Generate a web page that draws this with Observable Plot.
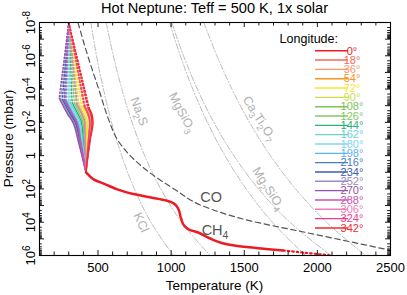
<!DOCTYPE html>
<html><head><meta charset="utf-8">
<script src="https://cdn.jsdelivr.net/npm/d3@7"></script>
<script src="https://cdn.jsdelivr.net/npm/@observablehq/plot@0.6"></script>
<style>
html,body{margin:0;padding:0;background:#fff;}
#chart svg{display:block;}
</style>
</head><body><div id="chart"></div>
<script>
// ---------- DATA ----------
const title = "Hot Neptune: Teff = 500 K, 1x solar";
const xLabel = "Temperature (K)";
const yLabel = "Pressure (mbar)";
const legendTitle = "Longitude:";
const xTickValues = [500, 1000, 1500, 2000, 2500];
const yTickLabelValues = [1e-8, 1e-6, 1e-4, 1e-2, 1, 1e2, 1e4, 1e6];

const longitudes = [0,18,36,54,72,90,108,126,144,162,180,198,216,234,252,270,288,306,324,342];
const lonColors = ["#ed1c24","#f26a5c","#f5986e","#f7941d","#f9e62c","#cddc4a","#7cc35a","#86c667","#25b474","#6ed1cf","#82d5ef","#5cb4e8","#4b7bc2","#3d5ca9","#9a8cc5","#9453a9","#cc52ad","#f07db8","#ec3d8c","#ef2d33"];

// upper (dotted) segment: common apex, then per-longitude start of solid part
const apexT = 300;          // K at 1e-8 mbar
const apexP = 1e-8;
const startT    = [440,430,415,403,387,370,352,338,323,309,297,284,268,256,245,235,276,358,409,432];
const startLogP = [-2.85,-2.88,-2.92,-2.96,-3.01,-3.05,-3.11,-3.15,-3.19,-3.23,-3.27,-3.31,-3.35,-3.39,-3.42,-3.45,-3.33,-3.09,-2.94,-2.87];
// solid segment: temperatures at these log10(p/mbar) levels
const solidLevels = [-2.5,-2,-1,0,1];
const solidT = [
 [458,466,448,432,418],
 [450,459,444,430,418],
 [438,449,438,427,418],
 [428,441,432,424,418],
 [415,430,425,421,418],
 [402,419,418,418,418],
 [387,407,411,414,418],
 [375,397,405,411,418],
 [363,387,398,408,418],
 [352,378,392,405,418],
 [342,369,387,403,418],
 [332,361,382,400,418],
 [319,350,375,397,418],
 [309,342,370,394,418],
 [300,335,365,392,418],
 [292,328,361,390,418],
 [325,356,378,398,418],
 [392,411,413,415,418],
 [433,445,435,426,418],
 [451,460,445,430,418]
];
// deep common profile
const deepLogP = [1.0,1.13,1.44,1.74,2.04,2.28,2.52,2.70,2.88,3.18,3.78,4.2,4.44,4.62,4.95,5.4,5.7];
const deepT    = [418,432,473,555,637,726,863,966,1020,1048,1068,1089,1123,1185,1260,1432,1767];
const deepDotLogP = [5.7, 6.0];
const deepDotT    = [1767, 2096];

// condensation curves (dash-dot, light grey)
const condLogP = [-8,-6,-4,-2,0,2,4,6];
const kclT     = [451,490,537,593,662,749,862,1016];
const na2sT    = [556,605,663,733,819,929,1072,1267];
const mgsio3T  = [989,1063,1148,1248,1368,1513,1692,1919];
const mg2sio4T = [1004,1085,1179,1292,1429,1597,1812,2092];
const catiT    = [1224,1313,1416,1536,1679,1851,2063,2329];
// CO = CH4 boundary (dark dashed)
const coLogP = [-8,-6,-4,-2,-1,0,1,2,3,3.93,4.56,5.19,5.70];
const coT    = [363,430,505,580,630,720,850,1020,1210,1548,1890,2233,2507];

// curve labels
const condLabels = ["Na2S","MgSiO3","Ca3Ti2O7","Mg2SiO4","KCl"];
const condLabelT = [781,1075,1603,1665,795];
const condLabelLogP = [-2.65,-2.59,-2.23,1.98,4.02];
const condLabelAngle = [70,62,57,57,65];
const gasLabels = ["CO","CH4"];
const gasLabelT = [1274,1300];
const gasLabelLogP = [2.52,4.5];

// ---------- BUILD ----------
const W = 407, H = 295, mL = 39, mR = 17, mT = 22, mB = 40;
const fW = W - mL - mR, fH = H - mT - mB;

const dotted = longitudes.flatMap((lon,i) => [
  {lon, T: apexT, p: apexP},
  {lon, T: startT[i], p: 10**startLogP[i]}
]);
const solid = longitudes.flatMap((lon,i) => [
  {lon, T: startT[i], p: 10**startLogP[i]},
  ...solidLevels.map((lp,j) => ({lon, T: solidT[i][j], p: 10**lp}))
]);
const deep = deepLogP.map((lp,i) => ({T: deepT[i], p: 10**lp}));
const deepDot = deepDotLogP.map((lp,i) => ({T: deepDotT[i], p: 10**lp}));
const conds = [["KCl",kclT],["Na2S",na2sT],["MgSiO3",mgsio3T],["Mg2SiO4",mg2sio4T],["CaTi",catiT]]
  .flatMap(([name, arr]) => arr.map((T,i) => ({name, T, p: 10**condLogP[i]})));
const coData = coLogP.map((lp,i) => ({T: coT[i], p: 10**lp}));
const condLab = condLabels.map((s,i) => ({s, T: condLabelT[i], p: 10**condLabelLogP[i], a: condLabelAngle[i]}));
const gasLab = gasLabels.map((s,i) => ({s, T: gasLabelT[i], p: 10**gasLabelLogP[i]}));

// tick positions (axis decoration)
const yMajor = d3.range(-8, 7).map(e => 10**e);
const yMinor = d3.range(-8, 6).flatMap(e => d3.range(2, 10).map(k => k * 10**e));
const xMinorTicks = d3.range(200, 2501, 100).filter(v => v % 500 !== 0);

const tickY = (vals, len, side) => Plot.tickY(vals, {y: d => d, stroke: "black", strokeWidth: 0.9,
  insetRight: side === "left" ? fW - len : 0, insetLeft: side === "right" ? fW - len : 0});
const tickX = (vals, len, side) => Plot.tickX(vals, {x: d => d, stroke: "black", strokeWidth: 0.9,
  insetTop: side === "bottom" ? fH - len : 0, insetBottom: side === "top" ? fH - len : 0});

const plot = Plot.plot({
  width: W, height: H,
  marginLeft: mL, marginRight: mR, marginTop: mT, marginBottom: mB,
  style: {fontFamily: "'Liberation Sans', Arial, Helvetica, sans-serif", fontSize: "13px", color: "black", background: "white", overflow: "visible"},
  x: {domain: [100, 2500]},
  y: {type: "log", domain: [1e-8, 1e6], reverse: true},
  color: {type: "ordinal", domain: longitudes, range: lonColors},
  marks: [
    Plot.line(conds, {x: "T", y: "p", z: "name", stroke: "#b4b4b4", strokeWidth: 0.9, strokeDasharray: "6,2,1.2,2", clip: true, curve: "monotone-y"}),
    Plot.line(coData, {x: "T", y: "p", stroke: "#555", strokeWidth: 1.2, strokeDasharray: "5.5,3.5", clip: true, curve: "monotone-y"}),
    Plot.text(condLab, {x: "T", y: "p", text: "s", rotate: "a", fill: "#b0b0b0", fontSize: 12.5}),
    Plot.text(gasLab, {x: "T", y: "p", text: "s", fill: "#555", fontSize: 14.5}),
    Plot.line(dotted, {x: "T", y: "p", z: "lon", stroke: "lon", strokeWidth: 1.5, strokeDasharray: "1.3,2.2", clip: true}),
    Plot.line(solid, {x: "T", y: "p", z: "lon", stroke: "lon", strokeWidth: 1.4, curve: "monotone-y", clip: true}),
    Plot.line(deep, {x: "T", y: "p", stroke: "#ed1c24", strokeWidth: 2.5, curve: "monotone-y", clip: true}),
    Plot.line(deepDot, {x: "T", y: "p", stroke: "#ed1c24", strokeWidth: 2.2, strokeDasharray: "1.5,3", clip: true}),
    Plot.frame({stroke: "black", strokeWidth: 1.1}),
    tickY(yMajor, 5, "left"), tickY(yMajor, 5, "right"),
    tickY(yMinor, 2.8, "left"), tickY(yMinor, 2.8, "right"),
    tickX(xTickValues, 5, "bottom"), tickX(xTickValues, 5, "top"),
    tickX(xMinorTicks, 3.5, "bottom"), tickX(xMinorTicks, 3.5, "top"),
    Plot.axisX(xTickValues, {tickSize: 0, tickPadding: 7, fontSize: 13, label: null, tickFormat: d => String(d)}),
    Plot.axisY(yTickLabelValues, {tickSize: 0, tickPadding: 5, tickRotate: -90, fontSize: 13, label: null,
      tickFormat: d => { const e = Math.round(Math.log10(d)); return e === 0 ? "1" : "10^" + e; }})
  ]
});
document.getElementById("chart").appendChild(plot);

const svg = d3.select(plot);
// superscripts in y tick labels
svg.selectAll("text").each(function() {
  const t = d3.select(this);
  const s = t.text();
  const m = /^10\^(-?\d+)$/.exec(s);
  if (m) {
    t.text(null);
    t.append("tspan").text("10");
    t.append("tspan").attr("font-size", "10px").attr("dy", "-5").text(m[1]);
  }
});
// subscripts in formula labels
const formulaSet = new Set([...condLabels, ...gasLabels]);
svg.selectAll("text").each(function() {
  const t = d3.select(this);
  const s = t.text();
  if (!formulaSet.has(s) || !/\d/.test(s)) return;
  t.text(null);
  let shifted = false;
  s.split(/(\d+)/).filter(x => x).forEach(part => {
    const isNum = /^\d+$/.test(part);
    const ts = t.append("tspan").text(part);
    if (isNum) { ts.attr("font-size", "0.72em").attr("dy", shifted ? null : 3.5); shifted = true; }
    else if (shifted) { ts.attr("dy", -3.5); shifted = false; }
  });
});

// title and axis labels
svg.append("text").attr("x", mL + fW/2).attr("y", 13).attr("text-anchor", "middle")
  .attr("font-size", 14.6).attr("fill", "black").text(title);
svg.append("text").attr("x", mL + fW/2).attr("y", 289.5).attr("text-anchor", "middle")
  .attr("font-size", 13.5).attr("fill", "black").text(xLabel);
svg.append("text").attr("transform", `translate(12.5,${mT + fH/2}) rotate(-90)`).attr("text-anchor", "middle")
  .attr("font-size", 13.5).attr("fill", "black").text(yLabel);

// legend
const lg = svg.append("g");
lg.append("text").attr("x", 338).attr("y", 43).attr("text-anchor", "end").attr("font-size", 12.5).attr("fill", "black").text(legendTitle);
longitudes.forEach((lon, i) => {
  const y = 50.7 + i * 9.33;
  lg.append("line").attr("x1", 315).attr("x2", 348).attr("y1", y).attr("y2", y)
    .attr("stroke", lonColors[i]).attr("stroke-width", 1.4);
  lg.append("text").attr("x", 352).attr("y", y + 3.8).attr("font-size", 11).attr("fill", lonColors[i]).text(lon + "°");
});
</script>
</body></html>
